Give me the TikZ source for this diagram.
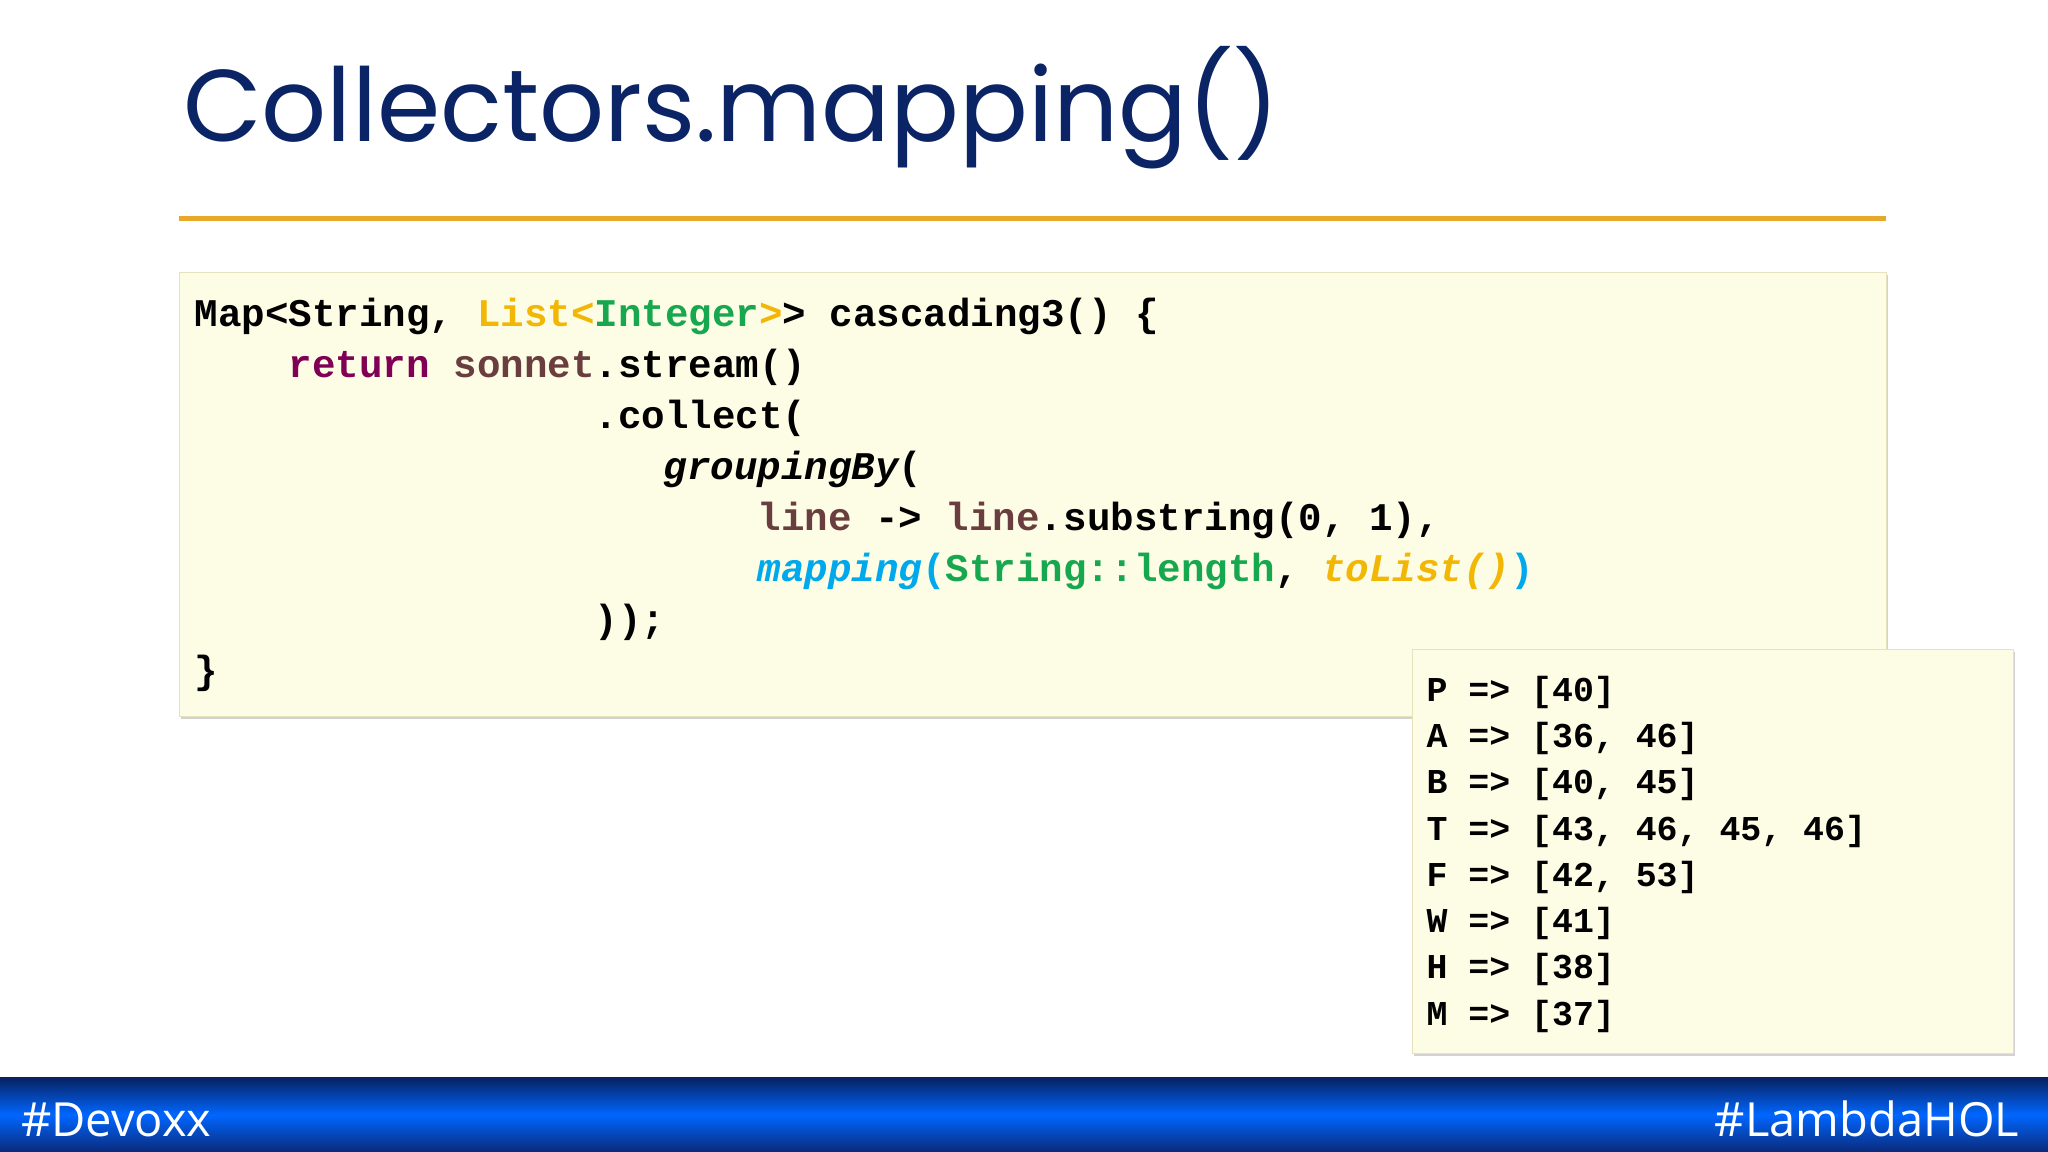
\documentclass[tikz,border=0pt]{standalone}
\usepackage{fontspec}
\setmainfont{Open Sans}
\newfontfamily\titlefont{Poppins}
\setmonofont{Liberation Mono}
\usetikzlibrary{shadows}
\definecolor{titleblue}{HTML}{0B2466}
\definecolor{rule}{HTML}{E8A92A}
\definecolor{codebg}{HTML}{FDFDE6}
\definecolor{codebd}{HTML}{E6E2BE}
\definecolor{kw}{HTML}{7F0055}
\definecolor{var}{HTML}{6A3E3E}
\definecolor{ty}{HTML}{F2B705}
\definecolor{gr}{HTML}{17A84F}
\definecolor{cy}{HTML}{00A8EC}
\definecolor{band}{HTML}{0A2A7A}
\newcommand\ind[1]{\hspace*{#1\dimexpr 18pt\relax}}
\tikzset{x=1pt,y=-1pt,
 codeline/.style={anchor=base west,inner sep=0pt,font=\ttfamily\bfseries\fontsize{30}{30}\selectfont},
 outline/.style={anchor=base west,inner sep=0pt,font=\ttfamily\bfseries\fontsize{26.7}{26.7}\selectfont},
 box/.style={fill=codebg,draw=codebd,line width=1pt,drop shadow={shadow xshift=1pt,shadow yshift=-2pt,opacity=0.35}}}
\begin{document}
\begin{tikzpicture}
\useasboundingbox (0,0) rectangle (1568,882);
\fill[white] (0,0) rectangle (1568,882);
\node[anchor=base west,inner sep=0pt,text=titleblue,font=\titlefont\fontsize{78}{78}\selectfont] (title) at (140,108) {Collectors.mapping()};
\draw[rule,line width=4pt] (137,167) -- (1444,167);
\node[box,minimum width=1307pt,minimum height=340pt,anchor=north west,inner sep=0pt] (code) at (137,208) {};
\node[codeline] (l1) at (149,250) {Map<String, \textcolor{ty}{List<}\textcolor{gr}{Integer}\textcolor{ty}{>}> cascading3() \{};
\node[codeline] (l2) at (221,289) {\textcolor{kw}{return} \textcolor{var}{sonnet}.stream()};
\node[codeline] (l3) at (455,328) {.collect(};
\node[codeline] (l4) at (508,367) {\itshape groupingBy\upshape(};
\node[codeline] (l5) at (580,406) {\textcolor{var}{line} -> \textcolor{var}{line}.substring(0, 1),};
\node[codeline] (l6) at (580,445) {\textcolor{cy}{\itshape mapping\upshape(}\textcolor{gr}{String::length}, \textcolor{ty}{\itshape toList()}\textcolor{cy}{)}};
\node[codeline] (l7) at (455,484) {));};
\node[codeline] (l8) at (149,523) {\}};
\node[box,minimum width=460pt,minimum height=309pt,anchor=north west,inner sep=0pt] (out) at (1081,497) {};
\foreach \t [count=\i from 0] in {P => [40],A => [36{,} 46],B => [40{,} 45],T => [43{,} 46{,} 45{,} 46],F => [42{,} 53],W => [41],H => [38],M => [37]}
  \node[outline] (o\i) at (1092,537+35.4*\i) {\t};
\shade[top color=band!80!black,bottom color=band,middle color=blue!60!cyan] (0,825) rectangle (1568,882);
\node[anchor=base west,inner sep=0pt,text=white,font=\fontsize{36}{36}\selectfont] (dev) at (16,870) {\#Devoxx};
\node[anchor=base east,inner sep=0pt,text=white,font=\fontsize{36}{36}\selectfont] (lam) at (1546,870) {\#LambdaHOL};
\end{tikzpicture}
\end{document}
